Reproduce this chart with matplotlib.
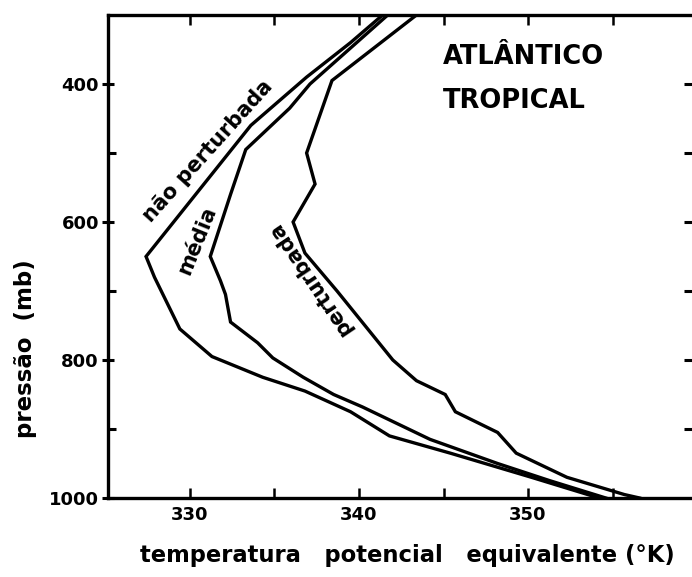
import matplotlib
matplotlib.use("Agg")
import matplotlib.pyplot as plt
from matplotlib.ticker import FixedLocator

# ---- data ----
p_nao = [300, 340, 390, 460, 650, 680, 755, 795, 825, 845, 875, 910, 935, 970, 1000]
t_nao = [341.4, 339.5, 336.9, 333.6, 327.4, 327.9, 329.4, 331.3, 334.3, 336.8, 339.5, 341.8, 345.4, 350.2, 354.2]

p_media = [300, 400, 435, 495, 560, 650, 685, 705, 745, 775, 797, 825, 850, 868, 915, 950, 975, 1000]
t_media = [341.7, 337.1, 335.9, 333.3, 332.4, 331.2, 331.8, 332.1, 332.4, 334.0, 334.9, 336.7, 338.5, 340.2, 344.2, 348.2, 351.3, 354.6]

p_pert = [300, 395, 500, 545, 600, 645, 700, 800, 830, 850, 875, 905, 935, 970, 995, 1000]
t_pert = [343.4, 338.4, 336.9, 337.4, 336.1, 336.8, 338.7, 342.0, 343.4, 345.1, 345.7, 348.2, 349.3, 352.3, 355.7, 356.6]

x_major = [330, 340, 350]
x_minor = [335, 345, 355]
y_major = [400, 600, 800, 1000]
y_minor = [500, 700, 900]

title_lines = ["ATLÂNTICO", "TROPICAL"]
curve_labels = ["não perturbada", "média", "perturbada"]
xlabel = "temperatura   potencial   equivalente (°K)"
ylabel = "pressão  (mb)"

# ---- figure ----
fig = plt.figure(figsize=(6.92, 5.77), dpi=100)
L, R, B, T = 108 / 692, 1.0, (577 - 498) / 577, 1 - 15 / 577
ax = fig.add_axes([L, B, R - L, T - B])

lw = 2.4
ax.plot(t_nao, p_nao, color="black", lw=lw, solid_joinstyle="miter")
ax.plot(t_media, p_media, color="black", lw=lw, solid_joinstyle="miter")
ax.plot(t_pert, p_pert, color="black", lw=lw, solid_joinstyle="miter")

ax.set_xlim(325.15, 359.7)
ax.set_ylim(1000, 300)

for s in ["left", "bottom", "top"]:
    ax.spines[s].set_linewidth(2.4)
ax.spines["right"].set_visible(False)

ax.xaxis.set_major_locator(FixedLocator(x_major))
ax.xaxis.set_minor_locator(FixedLocator(x_minor))
ax.yaxis.set_major_locator(FixedLocator(y_major))
ax.yaxis.set_minor_locator(FixedLocator(y_minor))

ax.tick_params(axis="x", which="both", direction="in", top=True, bottom=True,
               length=7, width=1.8, labelsize=13, pad=6)
ax.tick_params(axis="y", which="major", direction="inout", left=True, right=False,
               length=9, width=2.2, labelsize=13, pad=2)
ax.tick_params(axis="y", which="minor", direction="in", left=True, right=True,
               length=6, width=2.2)
ax.set_yticklabels([str(v) for v in y_major], fontweight="bold")
ax.set_xticklabels([str(v) for v in x_major], fontweight="bold")

# right-side inward ticks for the major levels too
ax2 = ax.secondary_yaxis("right")
ax2.set_yticks(y_major[:-1])
ax2.set_yticklabels([])
ax2.tick_params(direction="in", length=6, width=2.2)
ax2.spines["right"].set_visible(False)

ax.set_xlabel(xlabel, fontsize=16.3, fontweight="bold")
ax.xaxis.set_label_coords((407 - 108) / 584, -0.095)
ax.set_ylabel(ylabel, fontsize=16.5, fontweight="bold")
ax.yaxis.set_label_coords((37 - 108) / 584, (498 - 349) / 483)

ax.text(344.97, 371, title_lines[0], fontsize=18.5, fontweight="bold", ha="left", va="baseline")
ax.text(344.97, 434.7, title_lines[1], fontsize=18.5, fontweight="bold", ha="left", va="baseline")

ax.text(331.07, 497, curve_labels[0], fontsize=15, fontweight="bold", rotation=48,
        rotation_mode="anchor", ha="center", va="center")
ax.text(330.4, 627, curve_labels[1], fontsize=15, fontweight="bold", rotation=68,
        rotation_mode="anchor", ha="center", va="center")
ax.text(337.1, 682, curve_labels[2], fontsize=15, fontweight="bold", rotation=124,
        rotation_mode="anchor", ha="center", va="center")

fig.savefig("out.png", dpi=100)
